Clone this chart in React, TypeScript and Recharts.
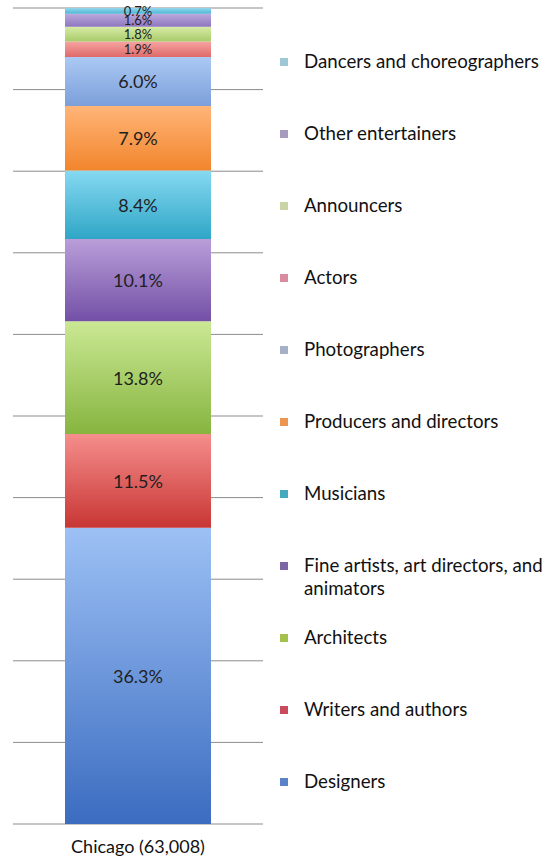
import { BarChart, Bar, XAxis, YAxis, CartesianGrid, Legend, LabelList } from "recharts";

// ---------------------------------------------------------------------------
// Data (stack order: bottom -> top)
// ---------------------------------------------------------------------------

const CATEGORIES = ["Chicago (63,008)"];

const OCCUPATIONS = [
  "Designers",
  "Writers and authors",
  "Architects",
  "Fine artists, art directors, and animators",
  "Musicians",
  "Producers and directors",
  "Photographers",
  "Actors",
  "Announcers",
  "Other entertainers",
  "Dancers and choreographers",
];

const SHARES = [36.3, 11.5, 13.8, 10.1, 8.4, 7.9, 6.0, 1.9, 1.8, 1.6, 0.7];

const Y_TICKS = [0, 10, 20, 30, 40, 50, 60, 70, 80, 90, 100];

// gradient stops (light top, dark bottom) per occupation
const COLOR_TOP = [
  "#9dc1f5", "#f58e8c", "#cbe894", "#b99ed9", "#86d9f1", "#ffb578",
  "#abc9f3", "#f6a4a2", "#d6eba4", "#bcaadd", "#95d6eb",
];
const COLOR_BOTTOM = [
  "#3b6cc0", "#c83634", "#86b53f", "#7350a6", "#2fa6c6", "#f2852c",
  "#7c9fdb", "#df6a6a", "#a9cb6b", "#8d75be", "#4cb6d6",
];
const LEGEND_COLORS = [
  "#5a83c9", "#cc4a5e", "#a6c04e", "#7b67a6", "#45aabf", "#ee9550",
  "#a6b0c6", "#d98ca0", "#c9d5a6", "#a79cc0", "#9ec8d6",
];

const FONT = "Lato, 'Open Sans', sans-serif";

const chartData = CATEGORIES.map((name, ci) => {
  const row: Record<string, string | number> = { name };
  OCCUPATIONS.forEach((occ, i) => {
    row[occ] = ci === 0 ? SHARES[i] : 0;
  });
  return row;
});

// ---------------------------------------------------------------------------
// Pieces
// ---------------------------------------------------------------------------

function SegmentLabel(props: any) {
  const { x, y, width, height, value } = props;
  const small = value < 3;
  return (
    <text
      x={x + width / 2}
      y={y + height / 2}
      textAnchor="middle"
      dominantBaseline="central"
      fontFamily={FONT}
      fontSize={small ? 13 : 18}
      fill="#1f1f1f"
    >
      {Number(value).toFixed(1)}%
    </text>
  );
}

function SideLegend() {
  const order = OCCUPATIONS.map((_, i) => i).reverse();
  return (
    <div style={{ fontFamily: FONT, fontSize: 18.7, color: "#111" }}>
      {order.map((i) => (
        <div key={OCCUPATIONS[i]} style={{ display: "flex", alignItems: "flex-start", height: 72 }}>
          <span
            style={{
              display: "inline-block",
              width: 8,
              height: 8,
              marginTop: 8,
              marginRight: 16,
              background: LEGEND_COLORS[i],
              flexShrink: 0,
            }}
          />
          <span style={{ lineHeight: "23px", maxWidth: 246 }}>{OCCUPATIONS[i]}</span>
        </div>
      ))}
    </div>
  );
}

// ---------------------------------------------------------------------------
// Component
// ---------------------------------------------------------------------------

export default function App() {
  return (
    <div style={{ position: "absolute", left: 0, top: 0, background: "#fff" }}>
      <BarChart
        width={554}
        height={862}
        data={chartData}
        margin={{ top: 8, right: 291, bottom: 8, left: 13 }}
        barCategoryGap={52}
      >
        <defs>
          {OCCUPATIONS.map((occ, i) => (
            <linearGradient key={occ} id={`grad${i}`} x1="0" y1="0" x2="0" y2="1">
              <stop offset="0%" stopColor={COLOR_TOP[i]} />
              <stop offset="100%" stopColor={COLOR_BOTTOM[i]} />
            </linearGradient>
          ))}
        </defs>
        <CartesianGrid vertical={false} stroke="#8c8c8c" strokeWidth={1} />
        <XAxis
          dataKey="name"
          height={30}
          axisLine={false}
          tickLine={false}
          tick={{ fontFamily: FONT, fontSize: 18, fill: "#111" }}
          tickMargin={10}
        />
        <YAxis hide domain={[0, 100]} ticks={Y_TICKS} />
        <Legend
          layout="vertical"
          align="center"
          verticalAlign="middle"
          wrapperStyle={{ left: 280, top: 50, width: 274 }}
          content={() => <SideLegend />}
        />
        {OCCUPATIONS.map((occ, i) => (
          <Bar
            key={occ}
            dataKey={occ}
            stackId="a"
            fill={`url(#grad${i})`}
            isAnimationActive={false}
          >
            <LabelList dataKey={occ} content={SegmentLabel} />
          </Bar>
        ))}
      </BarChart>
    </div>
  );
}
